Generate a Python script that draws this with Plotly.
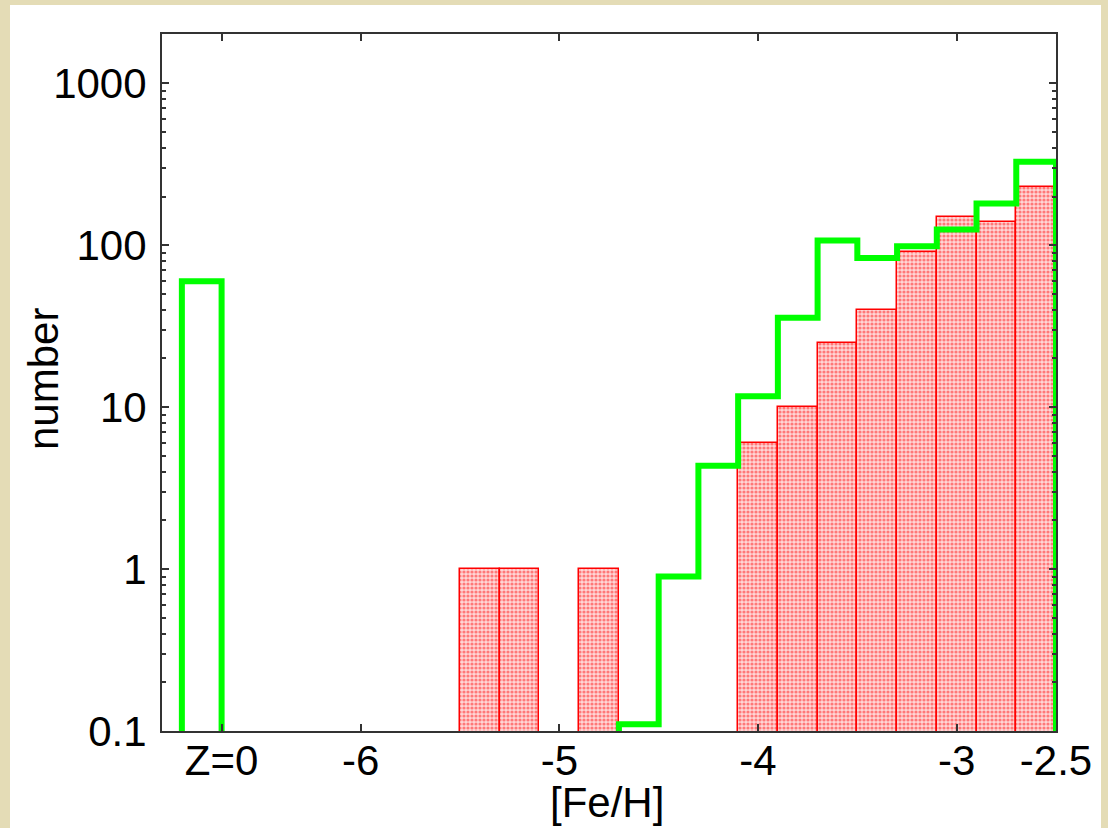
import plotly.graph_objects as go

# Metallicity histogram: 0.2 dex bins in [Fe/H]
bin_edges = [-5.5, -5.3, -5.1, -4.9, -4.7, -4.5, -4.3, -4.1, -3.9,
             -3.7, -3.5, -3.3, -3.1, -2.9, -2.7, -2.5]

# observed stars per bin (0 = empty bin)
observed = [1, 1, 0, 1, 0, 0, 0, 6, 10, 25, 40, 91, 150, 140, 230]

# model counts, starting at the -4.7 edge
model_edges = [-4.7, -4.5, -4.3, -4.1, -3.9, -3.7, -3.5, -3.3,
               -3.1, -2.9, -2.7, -2.5]
model = [0.11, 0.9, 4.35, 11.7, 35.7, 107, 83.6, 98.6, 125, 181, 328]

# Z=0 (metal-free) bin of the model
z0_edges = [-6.9, -6.7]
z0_count = 60

x_ticks = [-6.7, -6, -5, -4, -3, -2.5]
x_tick_text = ["Z=0", "-6", "-5", "-4", "-3", "-2.5"]
y_ticks = [0.1, 1, 10, 100, 1000]
y_tick_text = ["0.1", "1", "10", "100", "1000"]

FLOOR = 0.05  # below the axis bottom, so drops reach the frame
GREEN = "#00ff00"

W, H = 1108, 828
ML, MR, MT, MB = 162, 52, 34, 97

fig = go.Figure()

centers = [(a + b) / 2 for a, b in zip(bin_edges[:-1], bin_edges[1:])]
fig.add_trace(go.Bar(
    x=centers,
    y=[v if v > 0 else None for v in observed],
    width=0.2,
    marker=dict(
        color="#ffb0b0",
        line=dict(color="#ff0000", width=1.5),
        pattern=dict(shape=".", fgcolor="#ff1a1a", bgcolor="#ffd6d6",
                     size=4, solidity=0.5),
    ),
    showlegend=False,
))

# model as a step outline
sx = [model_edges[0]] + model_edges[:-1] + [model_edges[-1], model_edges[-1]]
sy = [FLOOR] + model + [model[-1], FLOOR]
fig.add_trace(go.Scatter(
    x=sx, y=sy, mode="lines", line=dict(color=GREEN, width=6, shape="hv"),
    showlegend=False,
))

fig.add_trace(go.Scatter(
    x=[z0_edges[0], z0_edges[0], z0_edges[1], z0_edges[1]],
    y=[FLOOR, z0_count, z0_count, FLOOR],
    mode="lines", line=dict(color=GREEN, width=6),
    showlegend=False,
))

# minor log ticks
minor_vals = [m * 10 ** e for e in range(-1, 4) for m in range(2, 10)]

axis_font = dict(family="Liberation Sans, Arial, sans-serif", size=42, color="#000000")

fig.update_xaxes(
    range=[-7, -2.5], tickvals=x_ticks, ticktext=x_tick_text,
    ticks="inside", ticklen=7, tickwidth=1.5, tickcolor="#333333",
    showline=True, linecolor="#333333", linewidth=2, mirror="ticks",
    showgrid=False, zeroline=False, tickfont=axis_font,
    ticklabelstandoff=-8, automargin=False,
)
fig.update_yaxes(
    type="log", range=[-1, 3.305], tickvals=y_ticks, ticktext=y_tick_text,
    ticks="inside", ticklen=7, tickwidth=1.5, tickcolor="#333333",
    minor=dict(tickvals=minor_vals, ticks="inside", ticklen=4,
               tickcolor="#333333", showgrid=False),
    showline=True, linecolor="#333333", linewidth=2, mirror="ticks",
    showgrid=False, zeroline=False, tickfont=axis_font,
    ticklabelstandoff=5, automargin=False,
)

# white page on a parchment-coloured surround
pw, ph = W - ML - MR, H - MT - MB
def px_x(p):
    return (p - ML) / pw
def px_y(p):
    return 1 - (p - MT) / ph

fig.add_shape(type="rect", xref="paper", yref="paper", layer="below",
              x0=px_x(10), x1=px_x(1101), y0=px_y(H + 5), y1=px_y(5),
              fillcolor="#ffffff", line=dict(width=0))

# axis titles
fig.add_annotation(text="[Fe/H]", xref="paper", yref="paper",
                   x=px_x(607), y=px_y(777), xanchor="center", yanchor="top",
                   showarrow=False, font=axis_font)
fig.add_annotation(text="number", xref="paper", yref="paper",
                   x=px_x(43), y=px_y(379), xanchor="center", yanchor="middle",
                   textangle=-90, showarrow=False, font=axis_font)

fig.update_layout(
    width=W, height=H,
    margin=dict(l=ML, r=MR, t=MT, b=MB),
    paper_bgcolor="#e4dcb6",
    plot_bgcolor="#ffffff",
    bargap=0,
    font=axis_font,
)

fig.write_html("out.html")
